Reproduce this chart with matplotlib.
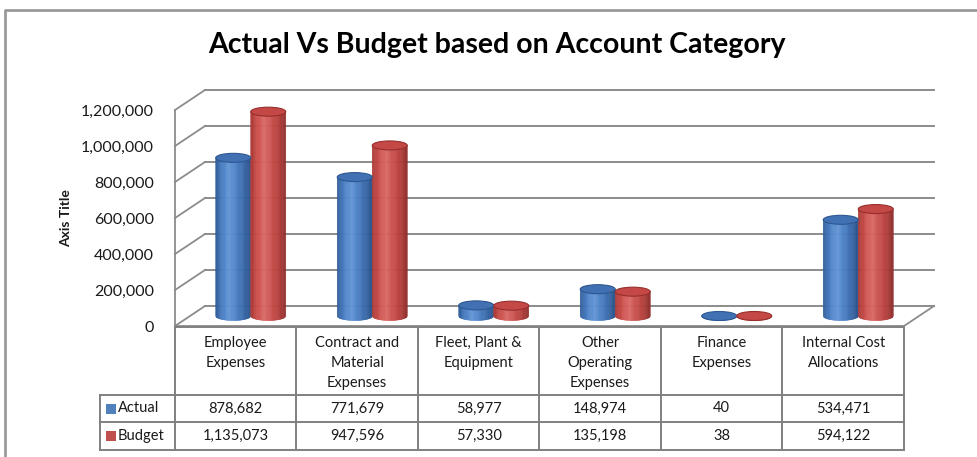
import numpy as np
import matplotlib
matplotlib.use("Agg")
import matplotlib.pyplot as plt
from matplotlib.transforms import Affine2D, blended_transform_factory
from matplotlib.patches import Polygon, Ellipse, Rectangle
from matplotlib.colors import LinearSegmentedColormap
from matplotlib.ticker import FuncFormatter

categories = ["Employee\nExpenses", "Contract and\nMaterial\nExpenses", "Fleet, Plant &\nEquipment",
              "Other\nOperating\nExpenses", "Finance\nExpenses", "Internal Cost\nAllocations"]
actual = [878682, 771679, 58977, 148974, 40, 534471]
budget = [1135073, 947596, 57330, 135198, 38, 594122]
series_names = ["Actual", "Budget"]
y_ticks = [0, 200000, 400000, 600000, 800000, 1000000, 1200000]

W, H = 978, 457
plt.rcParams['font.family'] = ['Lato', 'DejaVu Sans']
fig = plt.figure(figsize=(W / 100, H / 100), dpi=100)

# front face of the 3d box, in pixels from top-left
left, right, top, bottom = 175, 904, 110, 326
ax = fig.add_axes([left / W, 1 - bottom / H, (right - left) / W, (bottom - top) / H])
ax.set_xlim(0, len(categories))
ax.set_ylim(0, 1200000)
ax.patch.set_visible(False)
for sp in ax.spines.values():
    sp.set_visible(False)
ax.set_xticks([])
ax.set_yticks(y_ticks)
ax.yaxis.set_major_formatter(FuncFormatter(lambda v, p: f"{v:,.0f}"))
ax.tick_params(axis='y', length=0, pad=15, labelsize=11.5, labelcolor='#1a1a1a')
ax.set_ylabel("Axis Title", fontweight='bold', fontsize=10, color='#1a1a1a')
ax.yaxis.set_label_coords((72 - left) / (right - left), 0.5)

# depth offset (pixels) converted to data units
DX, DY = 30, 20
inv = ax.transData.inverted()
p0 = inv.transform((0, 0))
ddx, ddy = inv.transform((DX, DY)) - p0
ell_h = (inv.transform((0, 9)) - p0)[1]   # ellipse height of cylinder caps
bar_w = (inv.transform((35, 0)) - p0)[0]

grid_col = '#8c8c8c'
n = len(categories)
# back wall gridlines + left wall
for v in y_ticks:
    ax.plot([0 + ddx, n + ddx], [v + ddy, v + ddy], color=grid_col, lw=1.4, clip_on=False, zorder=1)
    ax.plot([0, ddx], [v, v + ddy], color=grid_col, lw=1.3, clip_on=False, zorder=1)
ax.plot([0, 0], [0, 1200000], color=grid_col, lw=1.3, clip_on=False, zorder=1)
# floor
ax.plot([0, n], [0, 0], color=grid_col, lw=1.3, clip_on=False, zorder=1)
ax.plot([n, n + ddx], [0, ddy], color=grid_col, lw=1.3, clip_on=False, zorder=1)

blue_body = ['#2e5b96', '#4a7fc5', '#6496d6', '#4b80c4', '#3a6aaa', '#2a538b']
red_body = ['#a83835', '#cc4f4b', '#da6a66', '#c9504c', '#b5403d', '#90302d']
styles = [
    (LinearSegmentedColormap.from_list('b', blue_body), '#4271b3', '#2d5790'),
    (LinearSegmentedColormap.from_list('r', red_body), '#c44845', '#962f2c'),
]


def cylinder(xc, y0, val, cmap, top_col, edge_col):
    rx, ry = bar_w / 2, ell_h / 2
    strips = 30
    edges = np.linspace(-1, 1, strips + 1)
    for k in range(strips):
        xs = np.linspace(edges[k], edges[k + 1], 5)
        low = y0 - ry * np.sqrt(np.clip(1 - xs ** 2, 0, 1))
        pts = [(xc + rx * x, yl) for x, yl in zip(xs, low)]
        pts += [(xc + rx * edges[k + 1], y0 + val), (xc + rx * edges[k], y0 + val)]
        c = cmap((k + 0.5) / strips)
        ax.add_patch(Polygon(pts, closed=True, facecolor=c, edgecolor=c, lw=0.4,
                             clip_on=False, zorder=3))
    ax.add_patch(Ellipse((xc, y0 + val), bar_w, ell_h, facecolor=top_col, edgecolor=edge_col,
                         lw=0.8, clip_on=False, zorder=4))


for i in range(n):
    for s, vals in enumerate([actual, budget]):
        cmap, tc, ec = styles[s]
        xc = i + 0.5 + (s - 0.5) * bar_w + ddx / 2
        cylinder(xc, ddy / 2, vals[i], cmap, tc, ec)

# data table below the floor (x from data, y in pixels from top)
pix = Affine2D().scale(1, -1).translate(0, H)
tb = blended_transform_factory(ax.transData, pix)
line_col = '#808080'
row_y = [327, 395, 422, 450]
lab_left = inv.transform((100, 0))[0]
ax.plot([0, n], [row_y[0], row_y[0]], color=line_col, lw=1.4, transform=tb, clip_on=False)
for y in row_y[1:]:
    ax.plot([lab_left, n], [y, y], color=line_col, lw=1.4, transform=tb, clip_on=False)
ax.plot([lab_left, lab_left], [row_y[1], row_y[3]], color=line_col, lw=1.4, transform=tb, clip_on=False)
for d in range(n + 1):
    ax.plot([d, d], [row_y[0], row_y[3]], color=line_col, lw=1.4, transform=tb, clip_on=False)

txt_col = '#1a1a1a'
for i, cat in enumerate(categories):
    ax.text(i + 0.5, 336, cat, transform=tb, ha='center', va='top', fontsize=10.5,
            linespacing=1.55, color=txt_col)
    ax.text(i + 0.5, (row_y[1] + row_y[2]) / 2, f"{actual[i]:,}", transform=tb,
            ha='center', va='center', fontsize=10.5, color=txt_col)
    ax.text(i + 0.5, (row_y[2] + row_y[3]) / 2, f"{budget[i]:,}", transform=tb,
            ha='center', va='center', fontsize=10.5, color=txt_col)

key_cols = ['#4f81bd', '#c0504d']
for s, name in enumerate(series_names):
    yc = (row_y[1 + s] + row_y[2 + s]) / 2
    fig.add_artist(Rectangle((106, yc + 5), 10, -10, transform=pix, facecolor=key_cols[s],
                             edgecolor='none'))
    fig.text(118, yc, name, transform=pix, ha='left', va='center', fontsize=10.5, color=txt_col)

# title and outer frame
fig.text(497 / W, 1 - 45 / H, "Actual Vs Budget based on Account Category", ha='center',
         va='center', fontsize=20.5, fontweight='bold', color='#000000')
fig.add_artist(plt.Line2D([5, 5, W], [H, 10, 10], transform=pix, color='#9a9a9a', lw=2))

fig.savefig("out.png", dpi=100)
